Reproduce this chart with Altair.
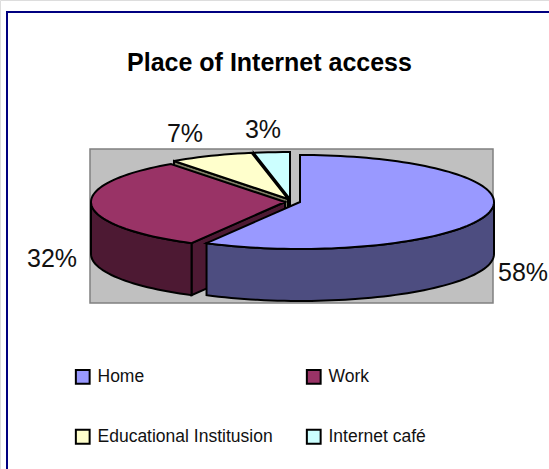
import math
import altair as alt

# Survey shares, in the order the slices run clockwise from twelve o'clock
places = ["Home", "Work", "Educational Institusion", "Internet café"]
shares = [58, 32, 7, 3]
top_colors = ["#9999FF", "#993366", "#FFFFCC", "#CCFFFF"]
side_colors = ["#4D4D80", "#4D1933", "#808066", "#668080"]

# Slice centres: the pie is pulled slightly apart
centers = [(300, 202), (285, 202), (288, 199), (290, 199)]
RX, RY, DEPTH = 194, 47, 52
STEP = 2.0


def rim(cx, cy, deg, drop=0):
    a = math.radians(deg)
    return [cx + RX * math.sin(a), cy - RY * math.cos(a) + drop]


def arc_angles(a0, a1):
    n = max(2, int((a1 - a0) / STEP) + 1)
    return [a0 + (a1 - a0) * i / (n - 1) for i in range(n)]


def feature(ring, name):
    ring = ring + [ring[0]]
    return {
        "type": "Feature",
        "geometry": {"type": "Polygon", "coordinates": [ring]},
        "properties": {"part": name},
    }


def slice_features():
    """Walls and lids, ordered from the back of the pie to the front."""
    spans = []
    start = 0.0
    for s in shares:
        spans.append((start, start + s * 3.6))
        start += s * 3.6
    out = []
    for i in [3, 2, 1, 0]:
        a0, a1 = spans[i]
        cx, cy = centers[i]
        side = places[i] + " side"
        # flat cut face, only seen when it turns towards the viewer
        if 180 < a0 < 360:
            out.append(feature(
                [[cx, cy], rim(cx, cy, a0), rim(cx, cy, a0, DEPTH), [cx, cy + DEPTH]],
                side))
        # curved outer wall on the front half
        f0, f1 = max(a0, 90), min(a1, 270)
        if f1 > f0:
            angs = arc_angles(f0, f1)
            out.append(feature(
                [rim(cx, cy, d) for d in angs]
                + [rim(cx, cy, d, DEPTH) for d in reversed(angs)],
                side))
        # top surface
        out.append(feature(
            [[cx, cy]] + [rim(cx, cy, d) for d in arc_angles(a0, a1)],
            places[i]))
    return out


def box(x0, y0, x1, y1):
    return [feature([[x0, y0], [x1, y0], [x1, y1], [x0, y1]], "box")]


identity = alt.Projection(type="identity", reflectY=False, scale=1, translate=[0, 0])


def shapes(features):
    return alt.Data(values={"type": "FeatureCollection", "features": features},
                    format=alt.DataFormat(type="json", property="features"))


frame = alt.Chart(shapes(box(7, 12, 570, 490))).mark_geoshape(
    fill="white", stroke="#000080", strokeWidth=2
).project(**identity.to_dict())

backdrop = alt.Chart(shapes(box(90, 149, 493, 303))).mark_geoshape(
    fill="#C0C0C0", stroke="#808080", strokeWidth=1.5
).project(**identity.to_dict())

pie = alt.Chart(shapes(slice_features())).mark_geoshape(
    stroke="black", strokeWidth=2, strokeJoin="miter"
).encode(
    fill=alt.Fill(
        "properties.part:N",
        sort=None,
        scale=alt.Scale(
            domain=places + [p + " side" for p in places],
            range=top_colors + side_colors,
        ),
        legend=alt.Legend(
            values=places,
            title=None,
            orient="none",
            direction="horizontal",
            legendX=74,
            legendY=368,
            columns=2,
            columnPadding=29,
            rowPadding=37,
            symbolType="square",
            symbolSize=190,
            symbolStrokeColor="black",
            symbolStrokeWidth=2,
            labelFont="Liberation Sans",
            labelFontSize=17.5,
            labelColor="#111111",
            labelOffset=6,
            labelLimit=300,
        ),
    )
).project(**identity.to_dict())

title = alt.Chart(alt.Data(values=[{"t": "Place of Internet access"}])).mark_text(
    font="Liberation Sans", fontWeight="bold", fontSize=25, color="black",
    align="center", baseline="alphabetic",
).encode(text="t:N", x=alt.value(269.5), y=alt.value(71))

# Data labels stay tied to the share values
label_x = [523, 52, 185, 263]
label_y = [281, 267, 142, 138]
label_rows = [
    {"label": f"{s}%", "px": x, "py": y}
    for s, x, y in zip(shares, label_x, label_y)
]
labels = [
    alt.Chart(alt.Data(values=[r])).mark_text(
        font="Liberation Sans", fontSize=25, color="#111111",
        align="center", baseline="alphabetic",
    ).encode(text="label:N", x=alt.value(r["px"]), y=alt.value(r["py"]))
    for r in label_rows
]

chart = alt.layer(frame, backdrop, pie, title, *labels).properties(
    width=549, height=469, padding=0, autosize=alt.AutoSizeParams(type="none")
).configure_view(stroke=None).configure(background="white")

chart.save("out.html", embed_options={"renderer": "svg", "actions": False})
